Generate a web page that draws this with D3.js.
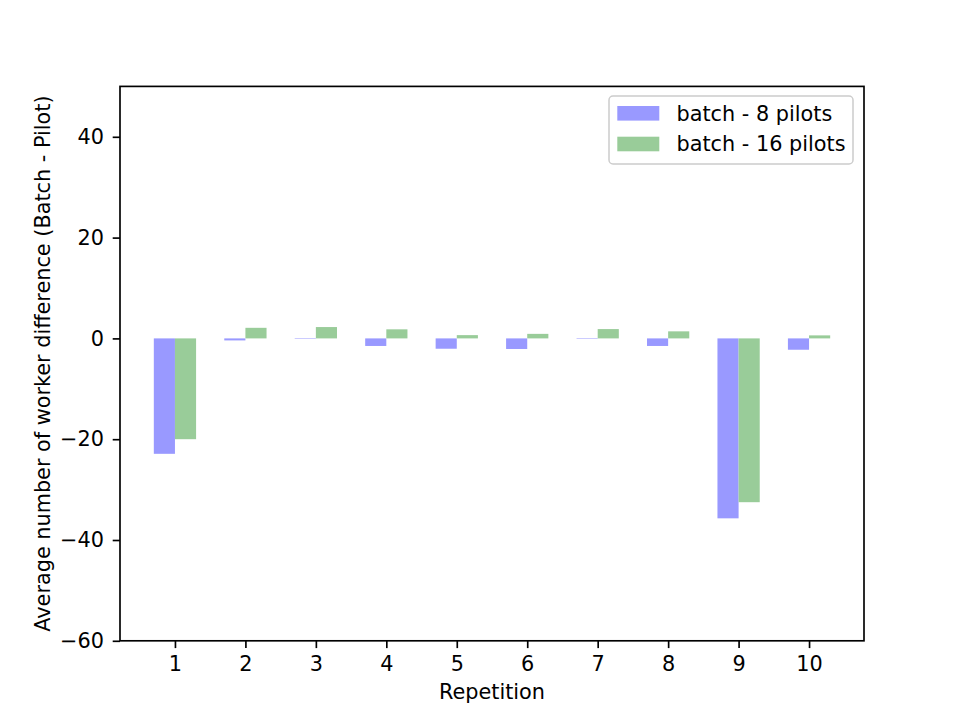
<!DOCTYPE html>
<html>
<head>
<meta charset="utf-8">
<style>
body { margin: 0; background: #fff; }
svg { font-family: "DejaVu Sans", sans-serif; }
.axis line { stroke: #000; stroke-width: 1.67px; }
.axis text { fill: #000; }
</style>
</head>
<body>
<script src="https://d3js.org/d3.v7.min.js"></script>
<script>
'use strict';
const repetitions = [1, 2, 3, 4, 5, 6, 7, 8, 9, 10];
const pilots8 = [-22.9, -0.4, -0.1, -1.5, -2.05, -2.1, -0.1, -1.5, -35.7, -2.25];
const pilots16 = [-20.0, 2.1, 2.25, 1.8, 0.65, 0.9, 1.85, 1.4, -32.5, 0.6];
const seriesNames = ['batch - 8 pilots', 'batch - 16 pilots'];
const seriesColors = ['#9999ff', '#99cc99'];
const yTicks = [-60, -40, -20, 0, 20, 40];

const W = 960, H = 720;
const fs = 20.8; // 10pt at 150 dpi
const margin = {top: 86.4, right: 96, bottom: 79.2, left: 120};
const width = W - margin.left - margin.right;
const height = H - margin.top - margin.bottom;
const barW = 0.3;

const x = d3.scaleLinear().domain([0.22, 10.78]).range([0, width]);
const y = d3.scaleLinear().domain([-60, 50]).range([height, 0]);

const svg = d3.select('body').append('svg')
	.attr('width', W).attr('height', H);
const g = svg.append('g')
	.attr('transform', 'translate(' + margin.left + ',' + margin.top + ')');

// bars
const series = [pilots8, pilots16];
series.forEach(function(vals, s) {
	g.selectAll('rect.s' + s)
		.data(vals)
		.enter().append('rect')
		.attr('class', 's' + s)
		.attr('x', function(d, i) { return x(repetitions[i] + (s === 0 ? -barW : 0)); })
		.attr('width', x(barW) - x(0))
		.attr('y', function(d) { return y(Math.max(0, d)); })
		.attr('height', function(d) { return Math.abs(y(d) - y(0)); })
		.attr('fill', seriesColors[s]);
});

// axes
g.append('g')
	.attr('class', 'axis')
	.attr('transform', 'translate(0,' + height + ')')
	.call(d3.axisBottom(x).tickValues(repetitions).tickSize(7.3).tickPadding(7.9).tickFormat(d3.format('d')))
	.attr('font-size', fs).attr('font-family', 'DejaVu Sans')
	.call(function(a) { a.select('.domain').remove(); });
g.append('g')
	.attr('class', 'axis')
	.call(d3.axisLeft(y).tickValues(yTicks).tickSize(7.3).tickPadding(8.7)
		.tickFormat(function(d) { return d < 0 ? '\u2212' + Math.abs(d) : d; }))
	.attr('font-size', fs).attr('font-family', 'DejaVu Sans')
	.call(function(a) { a.select('.domain').remove(); });

// frame
g.append('rect')
	.attr('width', width).attr('height', height)
	.attr('fill', 'none').attr('stroke', '#000').attr('stroke-width', 1.67);

// axis labels
svg.append('text')
	.attr('x', margin.left + width / 2).attr('y', 699)
	.attr('text-anchor', 'middle').attr('font-size', fs)
	.text('Repetition');
svg.append('text')
	.attr('transform', 'translate(50,' + (margin.top + height / 2) + ') rotate(-90)')
	.attr('text-anchor', 'middle').attr('font-size', fs)
	.text('Average number of worker difference (Batch - Pilot)');

// legend
const leg = svg.append('g').attr('transform', 'translate(609,96)');
leg.append('rect')
	.attr('width', 244).attr('height', 68).attr('rx', 4)
	.attr('fill', '#fff').attr('fill-opacity', 0.8)
	.attr('stroke', '#cccccc').attr('stroke-width', 1.5);
seriesNames.forEach(function(name, i) {
	leg.append('rect')
		.attr('x', 8.3).attr('y', 10 + i * 30.7)
		.attr('width', 42).attr('height', 14.6)
		.attr('fill', seriesColors[i]);
	leg.append('text')
		.attr('x', 67.5).attr('y', 24.7 + i * 30.5)
		.attr('font-size', fs)
		.text(name);
});
</script>
</body>
</html>
